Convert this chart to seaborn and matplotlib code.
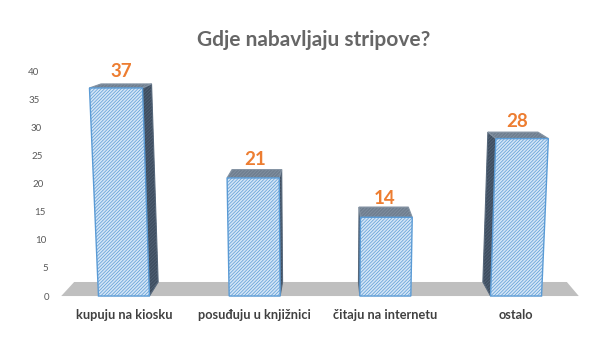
import pandas as pd
import seaborn as sns
import matplotlib.pyplot as plt
from matplotlib.patches import Polygon
from matplotlib.transforms import ScaledTranslation

categories = ['kupuju na kiosku', 'posuđuju u knjižnici', 'čitaju na internetu', 'ostalo']
counts = [37, 21, 14, 28]
y_ticks = [0, 5, 10, 15, 20, 25, 30, 35, 40]
title = 'Gdje nabavljaju stripove?'

df = pd.DataFrame({'mjesto': categories, 'broj': counts})

sns.set_theme(style='white')
plt.rcParams['font.family'] = ['Lato', 'DejaVu Sans']
plt.rcParams['hatch.linewidth'] = 0.5

fig = plt.figure(figsize=(6, 3.52), dpi=100)
ax = fig.add_axes([0.0977, 0.159, 0.8713, 0.639])
sns.barplot(data=df, x='mjesto', y='broj', width=0.39, color='#D6E6F5', ax=ax)
ax.set_ylim(0, 40)
x0, x1 = ax.get_xlim()

# fake 3d: slight perspective tilt + depth toward a vanishing point
XC = (x0 + x1) / 2
TILT = 0.0011
VP = (1.58, 52.0)
DEPTH = 0.048


def proj(x, y, d=0.0):
    x = XC + (x - XC) * (1 + TILT * y)
    k = DEPTH * d
    return (x + k * (VP[0] - x), y + k * (VP[1] - y))


fl, fr = x0 + 0.02, x1 - 0.02
ax.add_patch(Polygon([proj(fl, 0), proj(fr, 0), proj(fr, 0, 1), proj(fl, 0, 1)],
                     closed=True, facecolor='#BFBFBF', edgecolor='none',
                     zorder=0.5, clip_on=False))

for p, v in zip(ax.patches[:len(counts)], counts):
    xl = p.get_x()
    xr = xl + p.get_width()
    h = p.get_height()
    p.set_visible(False)
    xs = xr if (xl + xr) / 2 < VP[0] else xl
    side = [proj(xs, 0), proj(xs, 0, 1), proj(xs, h, 1), proj(xs, h)]
    top = [proj(xl, h), proj(xr, h), proj(xr, h, 1), proj(xl, h, 1)]
    front = [proj(xl, 0), proj(xr, 0), proj(xr, h), proj(xl, h)]
    ax.add_patch(Polygon(side, closed=True, facecolor='#3E4D5F', edgecolor='#56677A',
                         hatch='//////////', lw=0.8, zorder=2, clip_on=False))
    ax.add_patch(Polygon(top, closed=True, facecolor='#6F7E8F', edgecolor='#8594A4',
                         hatch='//////////', lw=0.8, zorder=2, clip_on=False))
    ax.add_patch(Polygon(front, closed=True, facecolor='#D3E5F6', edgecolor='#5B9BD5',
                         hatch='//////////', lw=1.0, zorder=3, clip_on=False))
    ax.annotate(str(v), xy=proj((xl + xr) / 2, h, 0.5), xytext=(0, 4),
                textcoords='offset points', ha='center', va='bottom',
                fontsize=13.5, fontweight='bold', color='#ED7D31')

sns.despine(ax=ax, left=True, bottom=True)
ax.set_xlabel('')
ax.set_ylabel('')
ax.set_yticks(y_ticks)
ax.tick_params(axis='x', length=0, pad=9, labelsize=9.2, labelcolor='#404040')
ax.tick_params(axis='y', length=0, pad=7, labelsize=7, labelcolor='#595959')
for lbl in ax.get_xticklabels():
    lbl.set_fontweight('bold')
for lbl, v in zip(ax.get_yticklabels(), y_ticks):
    lbl.set_transform(lbl.get_transform() + ScaledTranslation(-0.25 * v / 100, 0, fig.dpi_scale_trans))

fig.text(0.522, 0.886, title, ha='center', va='center', fontsize=15,
         fontweight='bold', color='#666666')

fig.savefig('out.png', dpi=100)
